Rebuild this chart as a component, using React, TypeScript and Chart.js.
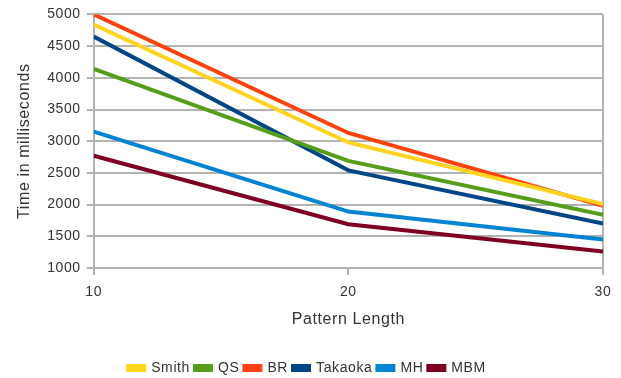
import React, { useEffect, useRef } from "react";
import { Chart, registerables } from "chart.js";

Chart.register(...registerables);

const patternLengths = [10, 20, 30];
const smith = [4840, 2980, 2010];
const qs = [4140, 2690, 1840];
const br = [5000, 3130, 1980];
const takaoka = [4650, 2540, 1700];
const mh = [3150, 1890, 1450];
const mbm = [2770, 1690, 1260];

const seriesNames = ["Smith", "QS", "BR", "Takaoka", "MH", "MBM"];
const seriesData = [smith, qs, br, takaoka, mh, mbm];
const seriesColors = ["#ffd320", "#579d1c", "#ff420e", "#004586", "#0084d1", "#7e0021"];

const FONT = "'Liberation Sans', Arial, sans-serif";
const GRID = "#b3b3b3";
const TEXT = "#333333";

const spacingPlugin = {
  id: "spacing",
  beforeLayout(chart: any) {
    chart.ctx.letterSpacing = "0.6px";
  },
  beforeDraw(chart: any) {
    chart.ctx.letterSpacing = "0.6px";
  },
};

export default function App() {
  const ref = useRef<HTMLCanvasElement | null>(null);
  useEffect(() => {
    document.body.style.margin = "0";
    const ctx = ref.current!;
    const chart = new Chart(ctx, {
      type: "line",
      plugins: [spacingPlugin],
      data: {
        datasets: seriesNames.map((name, i) => ({
          label: name,
          data: patternLengths.map((x, j) => ({ x, y: seriesData[i][j] })),
          borderColor: seriesColors[i],
          backgroundColor: seriesColors[i],
          borderWidth: 4,
          pointRadius: 0,
          tension: 0,
          fill: false,
        })),
      },
      options: {
        animation: false,
        responsive: false,
        layout: { padding: { left: 11, right: 18, top: 7, bottom: -7 } },
        plugins: {
          legend: {
            position: "bottom",
            labels: {
              boxWidth: 16,
              boxHeight: 4,
              padding: 5,
              color: TEXT,
              font: { family: FONT, size: 14 },
            },
          },
          tooltip: { enabled: false },
        },
        scales: {
          x: {
            type: "linear",
            min: 10,
            max: 30,
            ticks: {
              stepSize: 10,
              color: TEXT,
              font: { family: FONT, size: 14 },
              padding: 9,
              callback: (v: any) => String(v),
            },
            grid: {
              color: (c: any) => (c.tick && c.tick.value === 30 ? GRID : "rgba(0,0,0,0)"),
              tickColor: GRID,
              tickLength: 7,
              lineWidth: 2,
            },
            border: { color: GRID, width: 2 },
            title: {
              display: true,
              text: "Pattern Length",
              color: TEXT,
              font: { family: FONT, size: 16 },
              padding: { top: 0, bottom: 27 },
            },
          },
          y: {
            min: 1000,
            max: 5000,
            ticks: {
              stepSize: 500,
              color: TEXT,
              font: { family: FONT, size: 14 },
              padding: 6,
              callback: (v: any) => String(v),
            },
            grid: { color: GRID, tickColor: GRID, tickLength: 7, lineWidth: 2 },
            border: { color: GRID, width: 2 },
            title: {
              display: true,
              text: "Time in milliseconds",
              color: TEXT,
              font: { family: FONT, size: 16 },
              padding: { bottom: 7 },
            },
          },
        },
      },
    });
    return () => chart.destroy();
  }, []);
  return (
    <div style={{ width: 621, height: 378, background: "#fff" }}>
      <canvas ref={ref} width={621} height={378} style={{ width: 621, height: 378 }} />
    </div>
  );
}
